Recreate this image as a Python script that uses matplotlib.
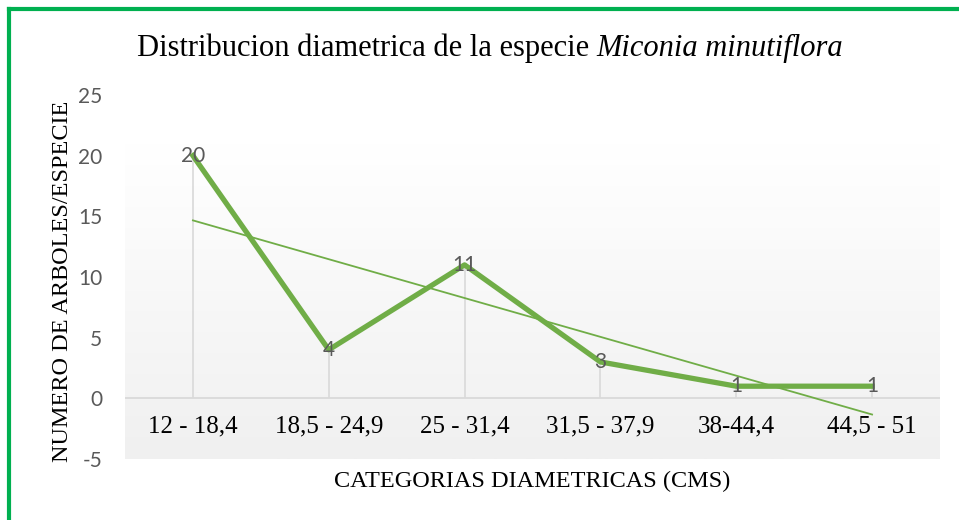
import numpy as np
import matplotlib
matplotlib.use("Agg")
import matplotlib.pyplot as plt
from matplotlib.lines import Line2D
from matplotlib.colors import LinearSegmentedColormap

# Datos de la grafica
categorias = ["12 - 18,4", "18,5 - 24,9", "25 - 31,4", "31,5 - 37,9", "38-44,4", "44,5 - 51"]
arboles = [20, 4, 11, 3, 1, 1]
yticks = [-5, 0, 5, 10, 15, 20, 25]

W, H = 959, 520
fig = plt.figure(figsize=(W / 100, H / 100), dpi=100)

# Ejes colocados en pixeles
x0, x1 = 125, 940
ytop, ybot = 95, 459
ax = fig.add_axes([x0 / W, (H - ybot) / H, (x1 - x0) / W, (ybot - ytop) / H])
ax.set_xlim(-0.5, len(categorias) - 0.5)
ax.set_ylim(-5, 25)
ax.set_facecolor("none")
for s in ax.spines.values():
    s.set_visible(False)

# fondo degradado del area de trazado
cmap = LinearSegmentedColormap.from_list("grad", ["#ffffff", "#f0f0f0"])
grad = np.linspace(0, 1, 256).reshape(-1, 1)
ax.imshow(grad, cmap=cmap, aspect="auto", extent=(-0.5, len(categorias) - 0.5, -5, 21),
          origin="upper", zorder=0)

x = np.arange(len(categorias))
ax.axhline(0, color="#d9d9d9", lw=1.3, zorder=1)
ax.vlines(x, 0, arboles, color="#d9d9d9", lw=1.2, zorder=1)

verde = "#70AD47"
ax.plot(x, arboles, color=verde, lw=3.8, solid_joinstyle="round", zorder=3)

# linea de tendencia lineal
m, b = np.polyfit(x, arboles, 1)
ax.plot(x, m * x + b, color=verde, lw=1.3, zorder=2)

for xi, v in zip(x, arboles):
    ax.text(xi, v, str(v), ha="center", va="center", fontsize=15, color="#595959",
            family="Lato", zorder=4)

ax.set_xticks([])
ax.set_yticks(yticks)
ax.set_yticklabels([str(t) for t in yticks], fontsize=15, color="#595959", family="Lato")
ax.tick_params(axis="y", length=0, pad=16.5)

serif = "Liberation Serif"
for xi, c in zip(x, categorias):
    ax.text(xi, -2.35, c, ha="center", va="center", fontsize=18, family=serif,
            color="black")

title_a = "Distribucion diametrica de la especie "
title_b = "Miconia minutiflora"
ta = fig.text(0.5, 1 - 48 / H, title_a, fontsize=22, family=serif, ha="left", va="center")
tb = fig.text(0.5, 1 - 48 / H, title_b, fontsize=22, family=serif, style="italic",
              ha="left", va="center")
fig.canvas.draw()
r = fig.canvas.get_renderer()
wa = ta.get_window_extent(r).width
wb = tb.get_window_extent(r).width
start = 490 - (wa + wb) / 2
ta.set_x(start / W)
tb.set_x((start + wa) / W)

fig.text(62 / W, 1 - 281 / H, "NUMERO DE ARBOLES/ESPECIE", rotation=90, fontsize=17.5,
         family=serif, ha="center", va="center")
fig.text(532 / W, 1 - 481 / H, "CATEGORIAS DIAMETRICAS (CMS)", fontsize=17.5, family=serif,
         ha="center", va="center")

# borde verde
borde = "#00B050"
fig.add_artist(Line2D([9 / W, 1], [1 - 9 / H, 1 - 9 / H], color=borde, lw=3,
                      transform=fig.transFigure))
fig.add_artist(Line2D([9 / W, 9 / W], [0, 1 - 9 / H], color=borde, lw=3,
                      transform=fig.transFigure))

fig.savefig("out.png", dpi=100)
